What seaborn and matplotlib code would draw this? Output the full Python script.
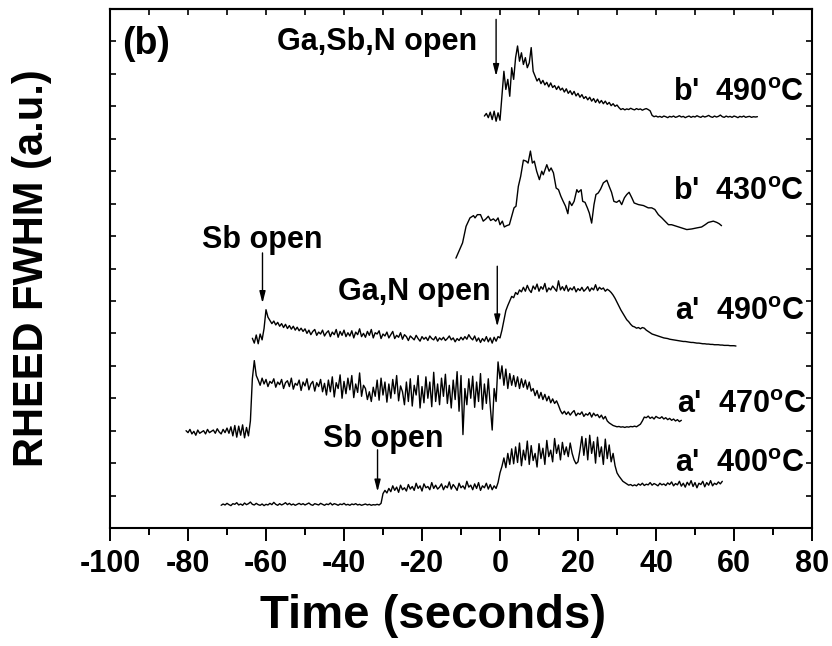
import numpy as np
import pandas as pd
import matplotlib
matplotlib.use("Agg")
import matplotlib.pyplot as plt
import seaborn as sns
from matplotlib.ticker import MultipleLocator, NullFormatter

# ---------------- data ----------------
STEP = 0.5  # seconds between samples of the sampled traces

b490_start = -4.0
b490_y = [12.70, 12.78, 12.65, 12.82, 12.59, 12.85, 12.54, 12.80, 12.57,
          13.31, 14.08, 13.52, 13.83, 13.31, 14.19, 13.83, 14.50, 14.86, 14.39,
          14.65, 14.29, 14.50, 14.19, 14.34, 14.81, 14.08, 13.93,
          13.78, 13.86, 13.70, 13.80, 13.66, 13.74, 13.60, 13.72, 13.58, 13.64,
          13.52, 13.62, 13.50, 13.56, 13.44, 13.54, 13.40, 13.48, 13.36, 13.46,
          13.32, 13.40, 13.28, 13.36, 13.24, 13.30, 13.20, 13.28, 13.16, 13.24,
          13.12, 13.22, 13.10, 13.18, 13.08, 13.16, 13.06, 13.12, 13.02, 13.08,
          13.00, 13.04, 12.96,
          12.90, 12.93, 12.89, 12.92, 12.90, 12.94, 12.91, 12.89, 12.93, 12.90,
          12.92, 12.88, 12.91, 12.93, 12.90, 12.86,
          12.72, 12.68, 12.70, 12.67, 12.69, 12.66, 12.70, 12.68, 12.65, 12.69,
          12.67, 12.70, 12.66, 12.68, 12.71, 12.67, 12.69, 12.65, 12.68, 12.70,
          12.66, 12.69, 12.67, 12.71, 12.68, 12.66, 12.70, 12.67, 12.69, 12.72,
          12.68, 12.66, 12.70, 12.67, 12.69, 12.73, 12.68, 12.66, 12.70, 12.67,
          12.69, 12.66, 12.70, 12.68, 12.65, 12.69, 12.67, 12.70, 12.66, 12.68,
          12.69, 12.66, 12.68, 12.67, 12.68]

b430_t = [-11.3, -9.6, -8.7, -7.7, -6.8, -6.4, -5.8, -5.0, -4.3, -3.6, -3.0,
          -2.4, -1.7, -1.1, -0.5, 0.0, 0.6, 1.1, 1.7, 2.4, 3.0, 3.6, 4.1, 4.7,
          5.3, 6.0, 6.7, 7.2, 7.8, 8.3, 8.8, 9.4, 10.1, 10.7, 11.1, 12.0, 12.6,
          13.1, 13.7, 14.4, 15.0, 15.6, 16.2, 16.8, 17.4, 17.8, 18.4, 19.0,
          19.7, 20.1, 20.8, 21.2, 21.8, 22.4, 22.9, 23.5, 24.1, 24.6, 25.2,
          25.8, 26.5, 27.4, 28.0, 28.6, 29.2, 29.9, 30.6, 31.2, 31.9, 32.5,
          33.1, 33.8, 34.4, 35.5, 36.8, 38.0, 38.9, 39.7, 40.6, 41.5, 42.3,
          43.2, 44.0, 45.3, 46.6, 47.9, 49.2, 50.4, 51.7, 52.6, 53.4, 54.7,
          55.6, 56.2, 56.8]
b430_y = [8.32, 8.79, 9.30, 9.56, 9.63, 9.56, 9.66, 9.66, 9.46, 9.53, 9.61,
          9.48, 9.53, 9.46, 9.56, 9.35, 9.46, 9.28, 9.32, 9.35, 9.61, 9.87,
          9.92, 10.53, 10.84, 11.34, 11.31, 11.25, 11.62, 11.25, 11.31, 11.00,
          10.74, 11.00, 10.89, 11.20, 11.00, 11.10, 10.95, 10.48, 10.43, 10.23,
          10.07, 9.92, 9.69, 10.07, 9.94, 10.07, 10.43, 10.35, 10.43, 10.07,
          10.04, 9.87, 9.71, 9.40, 9.97, 10.28, 10.33, 10.45, 10.64, 10.72,
          10.53, 10.35, 10.07, 10.04, 10.10, 9.97, 10.18, 10.28, 10.35, 10.18,
          10.02, 9.97, 9.94, 9.87, 9.87, 9.82, 9.66, 9.56, 9.46, 9.35, 9.35,
          9.30, 9.25, 9.20, 9.22, 9.25, 9.28, 9.35, 9.42, 9.46, 9.42, 9.38,
          9.32]

a490_start = -63.5
a490_y = [5.85, 5.70, 5.95, 5.68, 5.98, 5.80,
          6.15, 6.73, 6.50, 6.40,
          6.30, 6.38, 6.26, 6.34, 6.22, 6.30, 6.18, 6.28, 6.15, 6.24, 6.13,
          6.22, 6.10, 6.19, 6.08, 6.16, 6.06, 6.14,
          6.00, 6.10, 5.96, 6.06, 6.12, 5.94, 6.04, 5.98, 6.10, 5.92, 6.02,
          6.08, 5.90, 6.04, 5.96, 6.12, 5.88, 6.06, 5.94, 6.10, 5.90,
          6.02, 5.92, 6.08, 5.86, 6.04, 5.96, 6.14, 5.90, 6.00, 5.88,
          6.06, 5.94, 6.12, 5.86, 6.02, 5.98, 6.08, 5.84, 5.98, 5.92,
          6.04, 5.86, 5.96, 6.06, 5.84, 5.94, 5.88, 6.02, 5.82, 5.96,
          5.90, 5.78, 5.92, 5.86, 5.80, 5.94, 5.84, 5.76, 5.90, 5.82,
          5.88, 5.78, 5.92, 5.84, 5.80, 5.90, 5.76, 5.86, 5.80, 5.88,
          5.78, 5.84, 5.92, 5.80, 5.86, 5.74, 5.84, 5.78, 5.88, 5.80,
          5.90, 5.82, 5.96, 5.86, 5.80, 5.92, 5.76, 5.86, 5.72, 5.84,
          5.76, 5.90, 5.74, 5.86, 5.70, 5.88, 5.76,
          5.90, 5.86, 6.10, 6.40, 6.70, 6.86, 7.00, 7.14, 7.10, 7.26, 7.20, 7.34,
          7.28, 7.42, 7.30, 7.48, 7.34, 7.26, 7.46, 7.36, 7.52, 7.30,
          7.44, 7.36, 7.54, 7.28, 7.40, 7.34, 7.46, 7.38, 7.30, 7.62,
          7.34, 7.44, 7.32, 7.48, 7.30, 7.40, 7.34, 7.44, 7.28, 7.38,
          7.32, 7.42, 7.30, 7.36, 7.44, 7.30, 7.40, 7.34, 7.50, 7.32,
          7.42, 7.36, 7.40, 7.30, 7.36, 7.32, 7.26,
          7.18, 7.08, 6.96, 6.84, 6.72, 6.62, 6.52, 6.42, 6.36, 6.28,
          6.22, 6.20, 6.16, 6.18, 6.14, 6.18, 6.16, 6.10, 6.06, 6.02,
          5.98, 5.96, 5.94, 5.92, 5.90, 5.88, 5.86, 5.85, 5.84, 5.82,
          5.81, 5.80, 5.79, 5.78, 5.77, 5.76, 5.75, 5.75, 5.74, 5.73,
          5.72, 5.72, 5.71, 5.70, 5.70, 5.69, 5.68, 5.68, 5.67, 5.67,
          5.66, 5.66, 5.65, 5.65, 5.65, 5.64, 5.64, 5.63, 5.63, 5.63,
          5.62, 5.62, 5.62, 5.61]

a470_start = -80.5
a470_y = [3.00, 2.94, 3.04, 2.90, 2.98, 2.86, 3.02, 2.92, 2.96, 3.00, 2.90,
          3.04, 2.94, 2.98, 3.02, 2.92, 3.06, 2.96, 2.90, 3.04, 2.94, 3.08, 2.92,
          3.12, 2.84, 3.16, 2.80, 3.14, 2.86, 3.18, 2.78, 3.10, 2.84,
          3.30, 4.60, 5.16, 4.70,
          4.56, 4.40, 4.62, 4.44, 4.58, 4.36, 4.52, 4.46, 4.60, 4.34,
          4.50, 4.42, 4.58, 4.30, 4.48, 4.54, 4.36, 4.62, 4.28, 4.46,
          4.40, 4.56, 4.24, 4.50, 4.38, 4.60, 4.26, 4.44, 4.52, 4.22,
          4.48, 4.36, 4.58, 4.20, 4.46,
          4.10, 4.56, 4.20, 4.66, 4.04, 4.48, 4.30, 4.72, 4.00, 4.52,
          4.14, 4.62, 4.26, 4.70, 4.02, 4.44, 4.18, 4.78, 4.06, 4.40,
          4.30, 3.96, 4.20, 3.90, 4.34, 4.06, 4.56, 3.94, 4.62, 4.10,
          4.50, 3.88, 4.44, 4.00, 4.58, 4.14, 4.70, 3.92, 4.38,
          4.20, 3.80, 4.50, 3.90, 4.60, 3.76, 4.40, 4.10, 4.70, 3.70,
          4.36, 3.86, 4.66, 4.00, 4.50, 3.74, 4.80, 3.90, 4.44, 3.80,
          4.62, 4.06, 4.74, 3.84, 4.40, 3.70, 4.56, 3.96, 4.82, 3.60,
          4.70, 2.88, 4.30, 3.80, 4.60, 4.00, 4.68, 3.72, 4.50, 3.90,
          4.76, 3.66, 4.44, 3.84, 4.60, 3.76, 3.02, 4.30, 3.90,
          5.12, 4.60, 5.00, 4.40, 4.90, 4.30, 4.76, 4.40, 4.70, 4.36,
          4.66, 4.30, 4.60, 4.34, 4.56, 4.28, 4.50, 4.22,
          4.30, 4.08, 4.24, 4.00, 4.18, 3.96, 4.12, 3.92, 4.06, 3.86,
          3.98, 3.84, 3.92, 3.78,
          3.62, 3.52, 3.60, 3.50, 3.58, 3.48, 3.56, 3.62, 3.46, 3.54,
          3.50, 3.58, 3.44, 3.52, 3.48, 3.56, 3.42, 3.54, 3.46, 3.50,
          3.40, 3.48, 3.36, 3.44,
          3.30, 3.24, 3.20, 3.16, 3.14, 3.12, 3.13, 3.11, 3.12, 3.10,
          3.12, 3.11, 3.13, 3.12, 3.14, 3.12, 3.16, 3.20,
          3.30, 3.42, 3.40, 3.45, 3.38, 3.42, 3.36, 3.44, 3.40, 3.38,
          3.43, 3.36, 3.40, 3.34, 3.38, 3.32, 3.36, 3.30, 3.34, 3.28, 3.32]

a400_start = -71.5
a400_y = [0.70, 0.74, 0.71, 0.76, 0.72, 0.69, 0.75, 0.73, 0.78, 0.71,
          0.74, 0.70, 0.77, 0.72, 0.75, 0.80, 0.73, 0.71, 0.76, 0.72,
          0.70, 0.74, 0.69, 0.73, 0.71, 0.76, 0.72, 0.79, 0.73, 0.70,
          0.75, 0.71, 0.74, 0.78, 0.72, 0.76, 0.71, 0.74, 0.70, 0.73,
          0.76, 0.72, 0.75, 0.71, 0.74, 0.77, 0.72, 0.70, 0.75, 0.73,
          0.71, 0.76, 0.73, 0.70, 0.74, 0.72, 0.77, 0.71, 0.75, 0.73,
          0.70, 0.74, 0.72, 0.76, 0.71, 0.73, 0.70, 0.74, 0.72, 0.75,
          0.71, 0.73, 0.70, 0.72, 0.74, 0.71, 0.73, 0.70, 0.72, 0.71,
          0.73, 0.71,
          0.76, 1.06, 1.16, 1.08,
          1.22, 1.12, 1.30, 1.16, 1.26, 1.10, 1.32, 1.18, 1.24, 1.14,
          1.34, 1.20, 1.28, 1.16, 1.38, 1.22, 1.30, 1.14, 1.36, 1.24,
          1.28, 1.18, 1.40, 1.22, 1.32, 1.20, 1.26, 1.36, 1.18, 1.30,
          1.24, 1.42, 1.20, 1.34, 1.26, 1.16, 1.38, 1.24, 1.30, 1.20,
          1.44, 1.26, 1.32, 1.18, 1.36, 1.22, 1.40, 1.16, 1.30, 1.24,
          1.38, 1.20, 1.34, 1.18, 1.30, 1.22,
          1.40, 1.70, 1.90, 2.16, 1.86, 2.30, 1.96, 2.44, 1.98, 2.50,
          2.02, 2.62, 1.92, 2.40, 2.10, 2.68, 1.96, 2.54, 2.08, 2.30,
          1.88, 2.60, 2.14, 2.46, 1.96, 2.70, 2.20, 2.40, 2.04, 2.76,
          2.30, 2.56, 2.10, 2.64, 2.26, 2.50,
          2.20, 2.62, 2.30, 2.10, 1.98, 2.04, 2.40, 2.82, 2.24, 2.76,
          2.10, 2.86, 2.30, 2.66, 2.00, 2.80, 2.20, 2.50, 1.96, 2.74,
          2.14, 2.56, 2.04, 2.30, 1.92,
          1.70, 1.60, 1.52, 1.44, 1.40, 1.36, 1.32, 1.34, 1.30, 1.33,
          1.30, 1.36, 1.32, 1.38, 1.31, 1.35, 1.33, 1.40, 1.32, 1.37,
          1.34, 1.30, 1.38, 1.33, 1.36, 1.31, 1.39, 1.34, 1.42, 1.30,
          1.37, 1.33, 1.44, 1.29, 1.38, 1.26, 1.41, 1.32, 1.46, 1.28,
          1.40, 1.24, 1.38, 1.34, 1.44, 1.27, 1.40, 1.32, 1.46, 1.30,
          1.38, 1.34, 1.42, 1.36, 1.44]

curve_labels = ["b'  490$^{\\mathbf{o}}$C", "b'  430$^{\\mathbf{o}}$C",
                "a'  490$^{\\mathbf{o}}$C", "a'  470$^{\\mathbf{o}}$C",
                "a'  400$^{\\mathbf{o}}$C"]
curve_label_pos = [(44.4, 13.16), (44.4, 10.12), (44.9, 6.42), (45.3, 3.55), (44.9, 1.74)]

arrow_texts = ["Ga,Sb,N open", "Sb open", "Ga,N open", "Sb open"]
arrow_text_pos = [(-57.2, 14.73), (-76.4, 8.64), (-41.5, 7.04), (-45.4, 2.51)]
arrow_x = [-1.0, -60.9, -0.7, -31.4]
arrow_top = [15.68, 8.48, 8.07, 2.41]
arrow_tip = [13.93, 6.93, 6.21, 1.12]

x_ticks = [-100, -80, -60, -40, -20, 0, 20, 40, 60, 80]

# ---------------- build long table ----------------
def sampled(start, ys):
    ys = np.asarray(ys, dtype=float)
    return start + STEP * np.arange(len(ys)), ys

frames = []
for name, (tt, yy) in {
    "b490": sampled(b490_start, b490_y),
    "b430": (np.asarray(b430_t), np.asarray(b430_y)),
    "a490": sampled(a490_start, a490_y),
    "a470": sampled(a470_start, a470_y),
    "a400": sampled(a400_start, a400_y),
}.items():
    frames.append(pd.DataFrame({"time": tt, "fwhm": yy, "run": name}))
df = pd.concat(frames, ignore_index=True)

# ---------------- style ----------------
sns.set_style("ticks")
plt.rcParams["font.family"] = ["Liberation Sans", "DejaVu Sans"]
plt.rcParams["font.weight"] = "bold"
plt.rcParams["text.color"] = "black"
plt.rcParams["axes.labelcolor"] = "black"
plt.rcParams["xtick.color"] = "black"
plt.rcParams["ytick.color"] = "black"
plt.rcParams["axes.edgecolor"] = "black"
plt.rcParams["mathtext.fontset"] = "custom"
plt.rcParams["mathtext.bf"] = "Liberation Sans:bold"
plt.rcParams["mathtext.rm"] = "Liberation Sans:bold"
plt.rcParams["mathtext.default"] = "bf"

W, H = 832, 646
fig = plt.figure(figsize=(W / 100, H / 100), dpi=100)
ax = fig.add_axes([110 / W, 118 / H, 702 / W, 519 / H])

for name in ["b490", "b430", "a490", "a470", "a400"]:
    sub = df[df["run"] == name]
    sns.lineplot(data=sub, x="time", y="fwhm", ax=ax, color="black",
                 lw=1.0, sort=False, estimator=None, legend=False)

ax.set_xlim(-100, 80)
ax.set_ylim(0, 16)
ax.xaxis.set_minor_locator(MultipleLocator(10))
ax.set_xticks(x_ticks)
ax.set_xticklabels([str(v) for v in x_ticks])
ax.yaxis.set_major_locator(MultipleLocator(1))
ax.yaxis.set_major_formatter(NullFormatter())

ax.tick_params(axis="x", which="major", direction="out", length=9, width=1.4,
               labelsize=22, pad=6, top=False, bottom=True, colors="black")
ax.tick_params(axis="x", which="minor", direction="out", length=5, width=1.4,
               top=False, bottom=True, colors="black")
ax.tick_params(axis="y", which="major", direction="in", length=4, width=1.2,
               left=True, right=True, labelleft=False, colors="black")

sec = ax.secondary_xaxis("top")
sec.xaxis.set_major_locator(MultipleLocator(10))
sec.tick_params(direction="in", length=4, width=1.2, labeltop=False, colors="black")
sec.spines["top"].set_linewidth(1.5)
sec.spines["top"].set_color("black")

for s in ax.spines.values():
    s.set_linewidth(1.5)
    s.set_color("black")

ax.set_xlabel("Time (seconds)", fontsize=34, fontweight="bold", color="black")
ax.xaxis.set_label_coords((433 - 110) / 702, -(594 - 528) / 519)
ax.set_ylabel("RHEED FWHM (a.u.)", fontsize=30, fontweight="bold", color="black")
ax.yaxis.set_label_coords((52 - 110) / 702, 0.5)

ax.text(-96.9, 14.91, "(b)", fontsize=27, fontweight="bold", ha="left", va="center",
        color="black")

for txt, (tx, ty) in zip(arrow_texts, arrow_text_pos):
    ax.text(tx, ty, txt, fontsize=22, fontweight="bold", ha="left", va="baseline",
            color="black")
for ax_x, y0, y1 in zip(arrow_x, arrow_top, arrow_tip):
    ax.annotate("", xy=(ax_x, y1), xytext=(ax_x, y0),
                arrowprops=dict(arrowstyle="-|>,head_width=0.18,head_length=0.7",
                                color="black", lw=1.0, shrinkA=0, shrinkB=0,
                                mutation_scale=10))

for txt, (tx, ty) in zip(curve_labels, curve_label_pos):
    ax.text(tx, ty, txt, fontsize=22, fontweight="bold", ha="left", va="baseline",
            color="black")

fig.savefig("out.png", dpi=100)
